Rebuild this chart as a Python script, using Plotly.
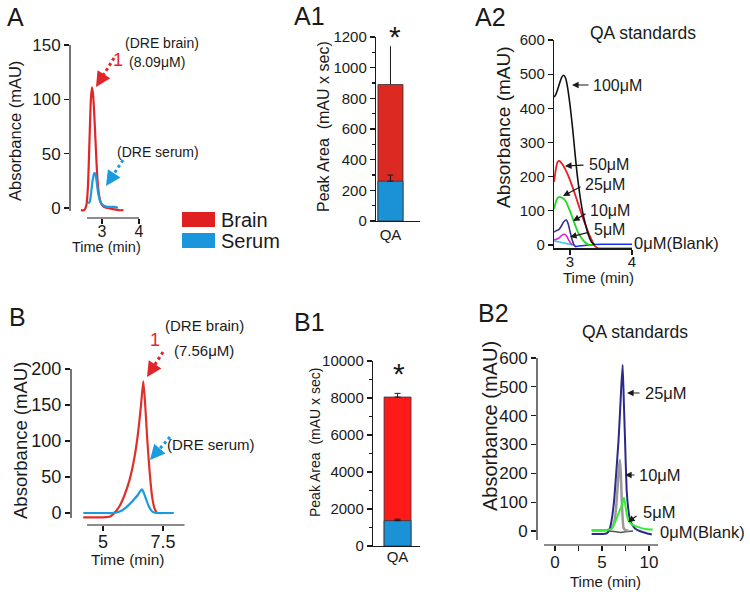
import math
import plotly.graph_objects as go

W, H = 750, 596
FONT = "Liberation Sans, Arial, sans-serif"
INK = "#1a1a1a"

# ---------------- data ----------------
# Panel A : DRE brain / serum chromatograms (time min, absorbance mAU)
a_brain_t = [2.43, 2.52, 2.58, 2.62, 2.66, 2.70, 2.73, 2.76, 2.80, 2.84, 2.88, 2.93, 2.98, 3.05, 3.15, 3.30, 3.45, 3.58]
a_brain_y = [-2, -2, 3, 20, 60, 100, 111, 104, 80, 50, 25, 10, 4, 1, 0, -1, -2, -2]
a_serum_t = [2.63, 2.67, 2.70, 2.73, 2.76, 2.79, 2.81, 2.84, 2.87, 2.90, 2.94, 2.98, 3.05, 3.15, 3.25, 3.35, 3.43]
a_serum_y = [4, 6, 12, 21, 28, 32, 32, 28, 20, 13, 7, 4, 2, 1, 1, 1, 0]

# Panel A1 : peak area (mAU x sec)
bar_cat = ["QA"]
a1_brain = [890]
a1_brain_err = [250]
a1_serum = [260]
a1_serum_err = [40]

# Panel A2 : QA standards
a2_100_t = [2.745, 2.77, 2.80, 2.84, 2.87, 2.90, 2.93, 2.96, 3.00, 3.04, 3.08, 3.12, 3.16, 3.20, 3.25, 3.30, 3.35, 3.40]
a2_100_y = [433, 440, 455, 478, 492, 497, 488, 462, 410, 345, 270, 200, 145, 100, 60, 28, 8, 0]
a2_50_t = [2.745, 2.77, 2.80, 2.83, 2.86, 2.90, 2.95, 3.00, 3.05, 3.10, 3.15, 3.20, 3.25, 3.30, 3.35, 3.40, 3.45, 3.60, 4.00]
a2_50_y = [185, 220, 243, 246, 240, 230, 212, 190, 165, 138, 110, 83, 58, 35, 15, -3, -9, -10, -10]
a2_25_t = [2.745, 2.77, 2.80, 2.83, 2.86, 2.90, 2.94, 2.98, 3.02, 3.06, 3.10, 3.14, 3.18, 3.22, 3.26, 3.30, 3.34, 3.40]
a2_25_y = [105, 125, 138, 141, 139, 135, 125, 108, 90, 70, 50, 33, 22, 12, 5, 1, 0, 0]
a2_10_t = [2.745, 2.78, 2.82, 2.86, 2.90, 2.94, 2.97, 3.00, 3.03, 3.06, 3.09]
a2_10_y = [38, 42, 45, 55, 68, 73, 62, 40, 18, 2, -5]
a2_5_t = [2.745, 2.78, 2.82, 2.86, 2.89, 2.92, 2.95, 2.98, 3.01, 3.04]
a2_5_y = [15, 17, 20, 27, 31, 31, 25, 14, 5, 0]
a2_0a_t = [2.745, 2.85, 2.95, 3.05, 3.09]
a2_0a_y = [12, 8, 4, 0, -3]
a2_0b_t = [3.08, 3.15, 3.30, 3.50, 3.70, 4.00]
a2_0b_y = [-5, -3, 0, 2, 2, 2]

# Panel B : chromatograms
b_brain_t = [4.18, 4.6, 5.0, 5.3, 5.5, 5.7, 5.9, 6.1, 6.3, 6.45, 6.58, 6.68, 6.76, 6.85, 6.95, 7.05, 7.15, 7.25]
b_brain_y = [-6, -6, -6, -5, 1, 10, 25, 45, 75, 108, 148, 183, 150, 100, 55, 22, 6, 0]
b_serum_t = [4.18, 4.6, 5.0, 5.4, 5.7, 5.9, 6.1, 6.3, 6.45, 6.55, 6.63, 6.7, 6.8, 6.9, 7.0, 7.1, 7.3, 7.6, 7.95]
b_serum_y = [0, 0, 0, 0, 2, 6, 12, 19, 25, 30, 33, 28, 19, 10, 4, 1, 0, 0, 0]

# Panel B1
b1_brain = [8050]
b1_brain_err = [200]
b1_serum = [1370]
b1_serum_err = [80]

# Panel B2 : QA standards
b2_25_t = [3.9, 4.5, 5.0, 5.5, 5.8, 6.03, 6.3, 6.56, 6.75, 6.91, 7.05, 7.2, 7.32, 7.45, 7.62, 7.8, 7.98, 8.25, 8.51, 9.0, 9.75, 10.3]
b2_25_y = [-10, -10, -10, -8, 5, 38, 110, 223, 310, 408, 500, 576, 450, 316, 142, 75, 38, 20, 9, 0, -8, -12]
b2_10_t = [3.9, 4.5, 5.0, 5.5, 6.0, 6.3, 6.5, 6.7, 6.82, 6.91, 7.0, 7.1, 7.2, 7.3, 7.5, 7.8]
b2_10_y = [2, 2, 2, 3, 8, 30, 80, 170, 225, 246, 200, 110, 40, 10, 3, 2]
b2_5_t = [3.9, 4.5, 5.0, 5.5, 6.0, 6.3, 6.56, 6.8, 7.0, 7.2, 7.35, 7.5, 7.65, 7.8, 8.0, 8.3, 8.7, 9.2, 9.8, 10.4]
b2_5_y = [3, 3, 3, 3, 8, 25, 44, 65, 80, 100, 115, 85, 55, 38, 28, 20, 15, 10, 6, 5]
b2_0_t = [5.8, 6.5, 7.0, 7.5, 8.3]
b2_0_y = [0, -3, -5, -3, 0]

RED = "#e1262a"
BLUE = "#1a9be0"

# ---------------- helpers ----------------
def px(x):
    return x / W

def py(y):
    return 1 - y / H

def xdom(a, b):
    return [a / W, b / W]

def ydom(top, bot):
    return [1 - bot / H, 1 - top / H]

def axis(size=15, **kw):
    d = dict(showgrid=False, zeroline=False, showline=True, linecolor=INK, linewidth=1.2,
             ticks="outside", ticklen=5, tickwidth=1.2, tickcolor=INK, automargin=False,
             tickfont=dict(family=FONT, size=size, color=INK), fixedrange=True)
    d.update(kw)
    return d

fig = go.Figure()

def line(t, y, color, xa, ya, width=2, smooth=0.7):
    fig.add_trace(go.Scatter(x=t, y=y, mode="lines", xaxis=xa, yaxis=ya,
                             line=dict(color=color, width=width, shape="spline", smoothing=smooth),
                             showlegend=False, hoverinfo="skip"))

# Panel A
line(a_brain_t, a_brain_y, RED, "x", "y", 2.2)
line(a_serum_t, a_serum_y, BLUE, "x", "y", 2.2)
# Panel A2
line(a2_0a_t, a2_0a_y, "#2fd3e6", "x4", "y4", 1.6)
line(a2_0b_t, a2_0b_y, "#1530ff", "x4", "y4", 1.6)
line(a2_5_t, a2_5_y, "#e020e0", "x4", "y4", 1.6)
line(a2_10_t, a2_10_y, "#3a2d8c", "x4", "y4", 1.6)
line(a2_25_t, a2_25_y, "#22d822", "x4", "y4", 1.8)
line(a2_50_t, a2_50_y, "#e8202a", "x4", "y4", 1.8)
line(a2_100_t, a2_100_y, "#111111", "x4", "y4", 1.6)
# Panel B
line(b_brain_t, b_brain_y, "#e0302c", "x5", "y5", 2.2, 0.5)
line(b_serum_t, b_serum_y, BLUE, "x5", "y5", 2.2, 0.5)
# Panel B2
line(b2_0_t, b2_0_y, "#555555", "x8", "y8", 1.5, 0.5)
line(b2_10_t, b2_10_y, "#9a9a9a", "x8", "y8", 2.5, 0.4)
line(b2_25_t, b2_25_y, "#2c2a86", "x8", "y8", 2.0, 0.4)
line(b2_5_t, b2_5_y, "#33ee33", "x8", "y8", 2.0, 0.4)

# Bars
def bars(vals, errs, color, xa, ya, cap):
    fig.add_trace(go.Bar(x=bar_cat, y=vals, width=[0.9], xaxis=xa, yaxis=ya,
                         marker=dict(color=color, line=dict(color="#333333", width=0.8)),
                         error_y=dict(type="data", array=errs, arrayminus=[0], symmetric=False,
                                      color=INK, thickness=1, width=cap),
                         showlegend=False, hoverinfo="skip"))

bars(a1_brain, a1_brain_err, "#dc2a22", "x3", "y3", 0)
bars(a1_serum, a1_serum_err, "#1b92d6", "x3", "y3", 3)
bars(b1_brain, b1_brain_err, "#ff1a1a", "x7", "y7", 3)
bars(b1_serum, b1_serum_err, "#1b92d6", "x7", "y7", 3)

# ---------------- axes ----------------
b1_ticks = [0, 2000, 4000, 6000, 8000, 10000]
layout = dict(
    width=W, height=H, margin=dict(l=0, r=0, t=0, b=0, pad=0, autoexpand=False), autosize=False,
    paper_bgcolor="white", plot_bgcolor="white", barmode="overlay",
    font=dict(family=FONT, color=INK),
    # Panel A (axis lines drawn as detached shapes below)
    xaxis=axis(16, domain=xdom(70, 139), range=[2.135, 4.0], tickvals=[3, 4], showline=False,
               ticklabelstandoff=-6, anchor="y"),
    yaxis=axis(17, domain=ydom(45, 218), range=[-9.2, 150], tickvals=[0, 50, 100, 150], showline=False, anchor="x"),
    # Panel A1
    xaxis3=axis(15, domain=xdom(376, 420), range=[-0.52, 1.06], type="category", ticks="", anchor="y3"),
    yaxis3=axis(15, domain=ydom(37, 221), range=[0, 1200], tickvals=[0, 200, 400, 600, 800, 1000, 1200],
                minor=dict(dtick=100, ticks="outside", ticklen=3, tickcolor=INK), anchor="x3"),
    # Panel A2
    xaxis4=axis(15, domain=xdom(554, 632), range=[2.742, 4.0], tickvals=[3, 4], ticklabelstandoff=-6, anchor="y4"),
    yaxis4=axis(15, domain=ydom(40, 248.4), range=[-10, 600], tickvals=[0, 100, 200, 300, 400, 500, 600], anchor="x4"),
    # Panel B
    xaxis5=axis(18, domain=xdom(71, 184.6), range=[3.67, 8.4], tickvals=[5, 7.5], showline=False,
                ticklabelstandoff=-5, anchor="y5"),
    yaxis5=axis(18, domain=ydom(369, 525), range=[-16.67, 200], tickvals=[0, 50, 100, 150, 200], showline=False, anchor="x5"),
    # Panel B1
    xaxis7=axis(15, domain=xdom(373, 420), range=[-0.82, 0.75], type="category", ticks="",
                ticklabelstandoff=-3, anchor="y7"),
    yaxis7=axis(15, domain=ydom(361, 546), range=[0, 10000], tickvals=b1_ticks, ticktext=[str(v) for v in b1_ticks],
                minor=dict(dtick=1000, ticks="outside", ticklen=3, tickcolor=INK), anchor="x7"),
    # Panel B2
    xaxis8=axis(17, domain=xdom(537, 658), range=[-1.915, 10.957], tickvals=[0, 2.5, 5, 7.5, 10],
                ticktext=["0", "", "5", "", "10"], showline=False, ticklabelstandoff=-3, anchor="y8"),
    yaxis8=axis(17, domain=ydom(358, 545), range=[-48.56, 600], tickvals=[0, 100, 200, 300, 400, 500, 600],
                showline=False, anchor="x8"),
)

annotations = []
shapes = []

def axline(x0, y0, x1, y1):
    shapes.append(dict(type="line", xref="paper", yref="paper", x0=px(x0), y0=py(y0), x1=px(x1), y1=py(y1),
                       line=dict(color=INK, width=1.2)))

# detached axis lines (A, B, B2)
axline(70, 45, 70, 211)
axline(87, 218, 139, 218)
axline(71, 369, 71, 518)
axline(87, 525, 184.6, 525)
axline(537, 358, 537, 540)
axline(544, 545, 658, 545)

def text(x, y, s, size, color=INK, angle=0, xanchor="center"):
    annotations.append(dict(x=px(x), y=py(y), xref="paper", yref="paper", text=s, showarrow=False,
                            textangle=angle, xanchor=xanchor, yanchor="middle",
                            font=dict(family=FONT, size=size, color=color)))

# panel labels
for lbl, x, y in (("A", 15, 17), ("A1", 309, 16), ("A2", 490, 17), ("B", 17, 317), ("B1", 309, 322), ("B2", 493, 313)):
    text(x, y, lbl, 25, xanchor="center")

# axis titles
text(15, 131, "Absorbance (mAU)", 16.5, angle=-90)
text(106, 247, "Time (min)", 14.5)
text(323, 127, "Peak Area\u00a0\u00a0(mAU x sec)", 16, angle=-90)
text(503, 127, "Absorbance (mAU)", 19, angle=-90)
text(598, 277, "Time (min)", 15)
text(20, 441, "Absorbance (mAU)", 18.5, angle=-90)
text(127, 559, "Time (min)", 15.5)
text(315, 443, "Peak Area\u00a0\u00a0(mAU x sec)", 14, angle=-90)
text(490, 426, "Absorbance (mAU)", 20, angle=-90)
text(605, 581, "Time (min)", 15)

# titles for standards
text(643, 33, "QA standards", 17.5)
text(635, 332, "QA standards", 17.5)

# significance stars
text(395, 36, "*", 30)
text(399, 373, "*", 30)

# Panel A annotations
text(162, 43, "(DRE brain)", 14)
text(157, 62, "(8.09\u03bcM)", 14)
text(118, 60, "1", 18, color=RED)
text(158, 152, "(DRE serum)", 14)
# Panel B annotations
text(204, 325, "(DRE brain)", 15)
text(204, 350, "(7.56\u03bcM)", 15)
text(155, 340, "1", 18, color=RED)
text(211, 445, "(DRE serum)", 15)

# legend (Panel A)
shapes.append(dict(type="rect", xref="paper", yref="paper", x0=px(182), x1=px(215), y0=py(227), y1=py(212),
                   fillcolor="#e02020", line=dict(width=0)))
shapes.append(dict(type="rect", xref="paper", yref="paper", x0=px(182), x1=px(215), y0=py(248), y1=py(233),
                   fillcolor="#1a96dc", line=dict(width=0)))
text(219, 220, "Brain", 20, xanchor="left")
text(219, 241, "Serum", 20, xanchor="left")

def dotted_arrow(tail, tip, color):
    dx, dy = tail[0] - tip[0], tail[1] - tip[1]
    L = math.hypot(dx, dy)
    ux, uy = dx / L, dy / L
    head = 15
    bx, by = tip[0] + ux * head * 0.85, tip[1] + uy * head * 0.85
    shapes.append(dict(type="line", xref="paper", yref="paper", x0=px(tail[0]), y0=py(tail[1]),
                       x1=px(bx), y1=py(by), line=dict(color=color, width=3, dash="dot")))
    annotations.append(dict(x=px(tip[0]), y=py(tip[1]), xref="paper", yref="paper", text="",
                            ax=ux * head, ay=uy * head, showarrow=True, arrowhead=2, arrowsize=1,
                            arrowwidth=3, arrowcolor=color, standoff=0))

dotted_arrow((114, 58), (96, 87), RED)
dotted_arrow((123, 160), (106, 186), BLUE)
dotted_arrow((163, 352), (147, 377), RED)
dotted_arrow((170, 437), (150, 460), BLUE)

def small_arrow(tail, tip):
    annotations.append(dict(x=px(tip[0]), y=py(tip[1]), xref="paper", yref="paper", text="",
                            ax=tail[0] - tip[0], ay=tail[1] - tip[1], showarrow=True, arrowhead=2,
                            arrowsize=1.1, arrowwidth=1.2, arrowcolor=INK, standoff=0))

# A2 labels
small_arrow((590, 85), (572, 85)); text(591, 86, "100\u03bcM", 16, xanchor="left")
small_arrow((585, 165), (565, 166)); text(587, 165, "50\u03bcM", 16, xanchor="left")
small_arrow((582, 186), (563, 196)); text(583, 184, "25\u03bcM", 16, xanchor="left")
small_arrow((587, 213), (573, 221)); text(588, 210, "10\u03bcM", 16, xanchor="left")
small_arrow((590, 232), (570, 237)); text(592, 229, "5\u03bcM", 16, xanchor="left")
text(632, 243, "0\u03bcM(Blank)", 16.5, xanchor="left")

# B2 labels
small_arrow((641, 393), (627, 393)); text(643, 393, "25\u03bcM", 16.5, xanchor="left")
small_arrow((636, 475), (625, 475)); text(637, 475, "10\u03bcM", 16.5, xanchor="left")
small_arrow((638, 515), (628, 522)); text(641, 512, "5\u03bcM", 16.5, xanchor="left")
text(658, 532, "0\u03bcM(Blank)", 16.5, xanchor="left")

layout["annotations"] = annotations
layout["shapes"] = shapes
fig.update_layout(**layout)
fig.write_html("out.html", config=dict(displayModeBar=False, staticPlot=True),
               post_script="document.body.style.margin='0px';document.body.style.padding='0px';"
                           "document.body.style.overflow='hidden';")
